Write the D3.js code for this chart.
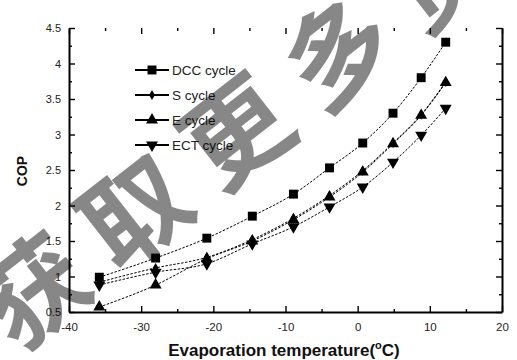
<!DOCTYPE html>
<html>
<head>
<meta charset="utf-8">
<script src="https://cdn.jsdelivr.net/npm/d3@7"></script>
<style>
  html, body { margin: 0; padding: 0; background: #fff; }
  svg { display: block; }
  text { font-family: "Liberation Sans", Arial, sans-serif; }
</style>
</head>
<body>
<svg id="chart" width="517" height="360"></svg>
<script>
// Evaporation temperature (°C) for each operating point
const temps = [-35.8, -28, -20.9, -14.6, -8.9, -3.9, 0.7, 4.9, 8.8, 12.2];

// COP of each cycle
const dccCop = [0.99, 1.26, 1.54, 1.85, 2.16, 2.53, 2.88, 3.30, 3.80, 4.30];
const sCop   = [0.92, 1.12, 1.27, 1.52, 1.82, 2.14, 2.49, 2.88, 3.28, 3.74];
const eCop   = [0.57, 0.88, 1.25, 1.50, 1.80, 2.12, 2.47, 2.87, 3.27, 3.73];
const ectCop = [0.88, 1.06, 1.18, 1.46, 1.70, 1.98, 2.26, 2.61, 2.99, 3.37];

const seriesNames = ["DCC cycle", "S cycle", "E cycle", "ECT cycle"];
const seriesValues = [dccCop, sCop, eCop, ectCop];

// Axis ticks
const xTicks = [-40, -30, -20, -10, 0, 10, 20];
const xMinorTicks = [-35, -25, -15, -5, 5, 15];
const yTicks = [0.5, 1, 1.5, 2, 2.5, 3, 3.5, 4, 4.5];
const yMinorTicks = [0.75, 1.25, 1.75, 2.25, 2.75, 3.25, 3.75, 4.25];

const svg = d3.select("#chart");
const plotLeft = 69, plotRight = 502, plotTop = 28, plotBottom = 312;

const x = d3.scaleLinear().domain([-40, 20]).range([plotLeft, plotRight]);
const y = d3.scaleLinear().domain([0.5, 4.5]).range([plotBottom, plotTop]);

// Marker shapes per series
const markers = [
  { type: d3.symbolSquare, size: 80, rot: 0 },
  { type: d3.symbolDiamond, size: 30, rot: 0 },
  { type: d3.symbolTriangle, size: 62, rot: 0 },
  { type: d3.symbolTriangle, size: 62, rot: 180 }
];

// ---- axes ----
const fmt = d => String(d);

function styleAxis(g, fontSize) {
  g.selectAll("path.domain").attr("stroke", "#000").attr("stroke-width", 2);
  g.selectAll(".tick line").attr("stroke", "#000").attr("stroke-width", 1.4);
  g.selectAll(".tick text").attr("fill", "#222").style("font-size", fontSize || "11px");
}

// bottom
svg.append("g").attr("transform", `translate(0,${plotBottom})`)
  .call(d3.axisBottom(x).tickValues(xTicks).tickFormat(fmt).tickSizeInner(-6).tickSizeOuter(0).tickPadding(11))
  .call(g => styleAxis(g, "11.5px"));
svg.append("g").attr("transform", `translate(0,${plotBottom})`)
  .call(d3.axisBottom(x).tickValues(xMinorTicks).tickFormat("").tickSizeInner(-3).tickSizeOuter(0))
  .call(g => g.select("path.domain").remove())
  .call(styleAxis);

// top (ticks only)
svg.append("g").attr("transform", `translate(0,${plotTop})`)
  .call(d3.axisTop(x).tickValues(xTicks).tickFormat("").tickSizeInner(-6).tickSizeOuter(0))
  .call(g => g.select("path.domain").remove())
  .call(styleAxis);
svg.append("g").attr("transform", `translate(0,${plotTop})`)
  .call(d3.axisTop(x).tickValues(xMinorTicks).tickFormat("").tickSizeInner(-3).tickSizeOuter(0))
  .call(g => g.select("path.domain").remove())
  .call(styleAxis);

// left
svg.append("g").attr("transform", `translate(${plotLeft},0)`)
  .call(d3.axisLeft(y).tickValues(yTicks).tickFormat(fmt).tickSizeInner(-6).tickSizeOuter(0).tickPadding(8))
  .call(styleAxis);
svg.append("g").attr("transform", `translate(${plotLeft},0)`)
  .call(d3.axisLeft(y).tickValues(yMinorTicks).tickFormat("").tickSizeInner(-3).tickSizeOuter(0))
  .call(g => g.select("path.domain").remove())
  .call(styleAxis);

// right
svg.append("g").attr("transform", `translate(${plotRight},0)`)
  .call(d3.axisRight(y).tickValues(yTicks).tickFormat("").tickSizeInner(-6).tickSizeOuter(0))
  .call(styleAxis);
svg.append("g").attr("transform", `translate(${plotRight},0)`)
  .call(d3.axisRight(y).tickValues(yMinorTicks).tickFormat("").tickSizeInner(-3).tickSizeOuter(0))
  .call(g => g.select("path.domain").remove())
  .call(styleAxis);

// ---- axis titles ----
const xTitle = svg.append("text")
  .attr("x", 284).attr("y", 356)
  .attr("text-anchor", "middle")
  .style("font-size", "17px").style("font-weight", "bold").attr("fill", "#111");
xTitle.append("tspan").text("Evaporation temperature(");
xTitle.append("tspan").attr("dy", -7).style("font-size", "11px").text("o");
xTitle.append("tspan").attr("dy", 7).text("C)");

svg.append("text")
  .attr("transform", "translate(27,171) rotate(-90)")
  .attr("text-anchor", "middle")
  .style("font-size", "14px").style("font-weight", "bold").attr("fill", "#111")
  .text("COP");

// ---- series ----
const line = d3.line()
  .x((d, i) => x(temps[i]))
  .y(d => y(d))
  .curve(d3.curveMonotoneX);

seriesValues.forEach((vals, k) => {
  svg.append("path")
    .datum(vals)
    .attr("d", line)
    .attr("fill", "none")
    .attr("stroke", "#000")
    .attr("stroke-width", 1)
    .attr("stroke-dasharray", "2.5,1.5");

  const m = markers[k];
  svg.selectAll(null)
    .data(vals)
    .join("path")
    .attr("d", d3.symbol().type(m.type).size(m.size))
    .attr("transform", (d, i) => `translate(${x(temps[i])},${y(d)}) rotate(${m.rot})`)
    .attr("fill", "#000");
});

// ---- legend ----
const legend = svg.append("g");
seriesNames.forEach((name, k) => {
  const ly = 70 + k * 25;
  legend.append("line")
    .attr("x1", 135).attr("x2", 169).attr("y1", ly).attr("y2", ly)
    .attr("stroke", "#000").attr("stroke-width", 2);
  const m = markers[k];
  legend.append("path")
    .attr("d", d3.symbol().type(m.type).size(m.size))
    .attr("transform", `translate(152,${ly}) rotate(${m.rot})`)
    .attr("fill", "#000");
  legend.append("text")
    .attr("x", 172).attr("y", ly + 5)
    .style("font-size", "13.5px").attr("fill", "#222")
    .text(name);
});

// ---- watermark ----
svg.append("text")
  .attr("transform", "translate(16,354) rotate(-38)")
  .style("font-family", "'Noto Sans CJK SC', sans-serif")
  .style("font-size", "105px").style("font-weight", "bold")
  .style("letter-spacing", "24px")
  .attr("fill", "#000").attr("fill-opacity", 0.47)
  .text("获取更多资料");
</script>
</body>
</html>
